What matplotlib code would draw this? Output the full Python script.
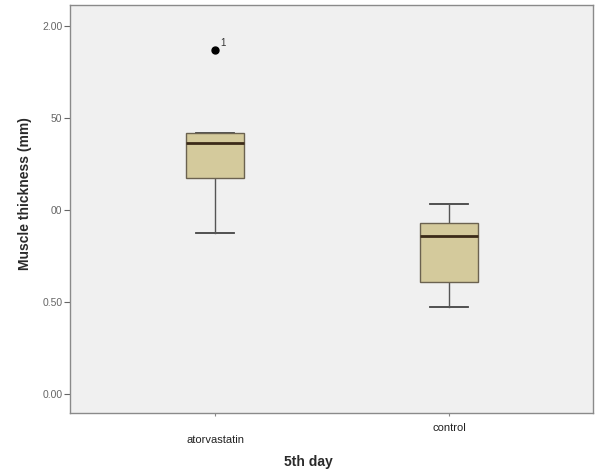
import matplotlib.pyplot as plt

plt.rcParams['font.family'] = ['Liberation Sans', 'DejaVu Sans']

groups = ['atorvastatin', 'control']
whislo = [0.873, 0.471]
q1 = [1.172, 0.610]
med = [1.366, 0.860]
q3 = [1.420, 0.931]
whishi = [1.420, 1.031]
fliers = [[1.870], []]
flier_ids = [['1'], []]

ytick_vals = [0.0, 0.5, 1.0, 1.5, 2.0]
ytick_labels = ['0.00', '0.50', '00', '50', '2.00']

stats = []
for i in range(len(groups)):
    stats.append({'label': groups[i], 'whislo': whislo[i], 'q1': q1[i],
                  'med': med[i], 'q3': q3[i], 'whishi': whishi[i],
                  'fliers': fliers[i]})

fig = plt.figure(figsize=(5.95, 4.72), dpi=100)
ax = fig.add_axes([0.1176, 0.125, 0.879, 0.864])
ax.set_facecolor('#f0f0f0')

bp = ax.bxp(stats, positions=[1, 2], widths=0.25, patch_artist=True,
            boxprops=dict(facecolor='#d4ca9c', edgecolor='#6b6250', linewidth=1),
            medianprops=dict(color='#3b2a18', linewidth=2),
            whiskerprops=dict(color='#555555', linewidth=1),
            capprops=dict(color='#444444', linewidth=1.3),
            capwidths=0.16,
            flierprops=dict(marker='o', markerfacecolor='black',
                            markeredgecolor='black', markersize=5))
# box on top so a cap sitting at q3 is hidden, like the original
for b in bp['boxes']:
    b.set_zorder(3)
for m in bp['medians']:
    m.set_zorder(4)
for c in bp['caps']:
    c.set_zorder(1)

for i in range(len(groups)):
    for v, lab in zip(fliers[i], flier_ids[i]):
        ax.annotate(lab, (i + 1, v), xytext=(4, 3), textcoords='offset points',
                    fontsize=7, color='#333333')

ax.set_xlim(0.38, 2.615)
ax.set_ylim(-0.103, 2.114)
ax.set_yticks(ytick_vals)
ax.set_yticklabels(ytick_labels, fontsize=7.5, color='#666666')
ax.set_xticks([1, 2])
ax.set_xticklabels(groups, fontsize=8, color='#222222')
ax.tick_params(axis='y', length=4.5, color='#666666', pad=1)
ax.tick_params(axis='x', length=2.5, color='#888888')
ticks = ax.xaxis.get_major_ticks()
ticks[0].set_pad(13)
ticks[1].set_pad(5)

for s in ax.spines.values():
    s.set_color('#8a8a8a')
    s.set_linewidth(1)

ax.set_ylabel('Muscle thickness (mm)', fontsize=10, fontweight='bold', color='#2a2a2a')
ax.yaxis.set_label_coords(-0.073, 0.537)
ax.set_xlabel('5th day', fontsize=10, fontweight='bold', color='#2a2a2a')
ax.xaxis.set_label_coords(0.455, -0.103)

fig.savefig('out.png', dpi=100)
